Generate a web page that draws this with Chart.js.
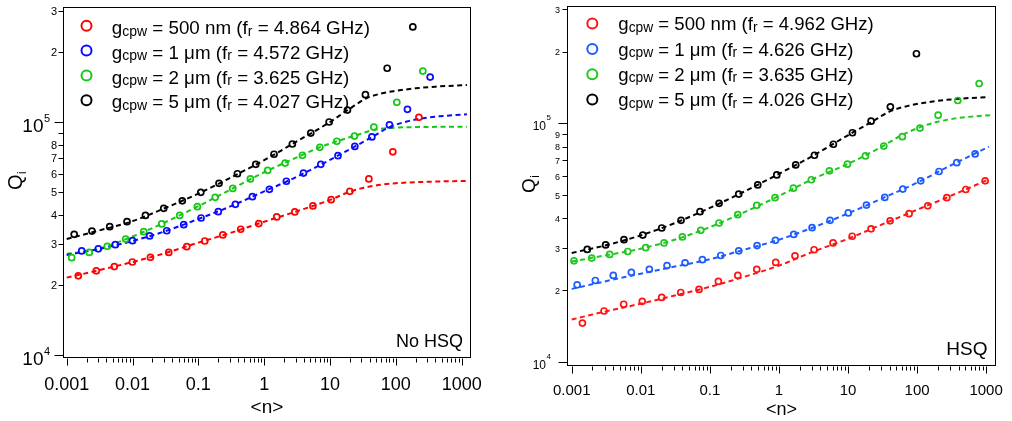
<!DOCTYPE html>
<html>
<head>
<meta charset="utf-8">
<script src="https://cdn.jsdelivr.net/npm/chart.js@4.4.0/dist/chart.umd.min.js"></script>
<style>
  html, body { margin: 0; padding: 0; background: #fff; }
  #wrap { position: relative; width: 1012px; height: 421px; overflow: hidden; }
  canvas { position: absolute; top: 0; }
  #noHsq { left: 0; }
  #hsq   { left: 505px; }
</style>
</head>
<body>
<div id="wrap">
  <canvas id="noHsq" width="505" height="421"></canvas>
  <canvas id="hsq" width="507" height="421"></canvas>
</div>
<script>
/* ── axes ─────────────────────────────────────────────── */
const xDecades    = [0.001, 0.01, 0.1, 1, 10, 100, 1000];
const xTickLabels = ['0.001', '0.01', '0.1', '1', '10', '100', '1000'];
const yTickValues = [1e4, 2e4, 3e4, 4e4, 5e4, 6e4, 7e4, 8e4, 9e4, 1e5, 2e5, 3e5];
const yTickLabelsNoHsq = ['10^4', '2', '3', '4', '5', '6', '7', '8', '', '10^5', '2', '3'];
const yTickLabelsHsq   = ['10^4', '2', '3', '4', '5', '6', '7', '8', '9', '10^5', '2', '3'];

/* ── legend text ──────────────────────────────────────── */
const gaps        = ['500 nm', '1 μm', '2 μm', '5 μm'];
const freqsNoHsq  = ['4.864', '4.572', '3.625', '4.027'];
const freqsHsq    = ['4.962', '4.626', '3.635', '4.026'];

/* ── No HSQ : measured points ─────────────────────────── */
const noHsqRedN   = [0.0015, 0.00282, 0.00529, 0.00994, 0.0187, 0.0355, 0.0667, 0.125, 0.235, 0.44, 0.828, 1.55, 2.92, 5.5, 10.4, 20, 38.9, 90, 224];
const noHsqRedQ   = [21900, 23000, 24000, 25100, 26300, 27600, 29200, 30900, 32800, 34700, 36700, 39200, 41200, 43700, 46500, 50500, 57100, 74700, 105100];
const noHsqBlueN  = [0.00169, 0.00302, 0.00548, 0.01, 0.0182, 0.0331, 0.06, 0.11, 0.201, 0.365, 0.662, 1.2, 2.17, 3.95, 7.25, 13.2, 23.8, 43.2, 80, 150, 332];
const noHsqBlueQ  = [28000, 28600, 29800, 31000, 32500, 34200, 36300, 38800, 41300, 44400, 47900, 51500, 55800, 60500, 66000, 71900, 78800, 86500, 97400, 113700, 156500];
const noHsqGreenN = [0.00119, 0.0022, 0.00414, 0.00788, 0.0148, 0.0278, 0.0521, 0.0966, 0.18, 0.333, 0.617, 1.13, 2.08, 3.81, 7.0, 12.7, 23.5, 46.3, 103.5, 257];
const noHsqGreenQ = [26200, 27600, 29300, 31500, 33900, 36600, 39800, 43400, 47600, 52000, 57100, 62200, 66800, 72200, 78100, 82900, 87300, 95400, 121900, 166100];
const noHsqBlackN = [0.0013, 0.00242, 0.0045, 0.00825, 0.0157, 0.0298, 0.057, 0.109, 0.206, 0.392, 0.745, 1.41, 2.68, 5.1, 9.69, 18.4, 34.5, 73.8, 181];
const noHsqBlackQ = [33000, 34100, 35600, 37400, 39800, 42700, 46000, 50000, 54700, 60100, 66000, 72900, 80700, 89900, 100300, 112900, 131400, 170700, 257000];

/* ── No HSQ : fit curves ──── */
const noHsqRedFitN   = [0.001, 0.003, 0.01, 0.03, 0.1, 0.3, 1, 3, 10, 20, 40, 92, 300, 1200];
const noHsqRedFitQ   = [21500, 23100, 25100, 27300, 30400, 33400, 37400, 41300, 46400, 50300, 53000, 54600, 55500, 56000];
const noHsqBlueFitN  = [0.001, 0.003, 0.01, 0.03, 0.1, 0.3, 1, 3, 10, 24, 43, 80, 147, 296, 600, 1200];
const noHsqBlueFitQ  = [26900, 28500, 30900, 33900, 38400, 43400, 50500, 58000, 69000, 78800, 86300, 95300, 100800, 104700, 106800, 108200];
const noHsqGreenFitN = [0.001, 0.003, 0.01, 0.03, 0.1, 0.3, 1, 3, 7, 12.7, 23.5, 46, 100, 300, 1200];
const noHsqGreenFitQ = [27200, 28600, 32300, 37000, 43600, 51200, 61000, 70300, 78100, 82900, 87500, 92800, 94800, 95500, 95700];
const noHsqBlackFitN = [0.001, 0.003, 0.01, 0.03, 0.1, 0.3, 1, 3, 10, 20, 35, 60, 100, 200, 400, 1200];
const noHsqBlackFitQ = [31500, 34200, 37600, 42600, 49400, 57600, 68800, 82200, 100300, 114500, 126500, 133000, 136500, 140000, 142300, 144700];

/* ── HSQ : measured points ────────────────────────────── */
const hsqRedN   = [0.00143, 0.00294, 0.00566, 0.0105, 0.0201, 0.0379, 0.0697, 0.133, 0.254, 0.478, 0.9, 1.71, 3.23, 6.08, 11.5, 21.6, 40.7, 76.7, 143, 270, 508, 968];
const hsqRedQ   = [14600, 16400, 17500, 18000, 18700, 19600, 20200, 21800, 23100, 24500, 26200, 27900, 29600, 31600, 33700, 36200, 39100, 41900, 45200, 48900, 52900, 57500];
const hsqBlueN  = [0.0012, 0.0022, 0.004, 0.0073, 0.0133, 0.024, 0.0438, 0.078, 0.144, 0.262, 0.483, 0.889, 1.64, 3.02, 5.5, 10.1, 18.5, 34.1, 62.2, 113, 208, 376, 693];
const hsqBlueQ  = [21100, 22000, 23100, 23800, 24500, 25400, 26100, 26900, 28000, 29300, 30800, 32400, 34300, 36600, 39300, 42200, 45500, 49000, 53100, 57500, 62900, 68500, 74500];
const hsqGreenN = [0.00108, 0.00195, 0.00355, 0.00647, 0.0118, 0.0217, 0.04, 0.0738, 0.136, 0.254, 0.478, 0.879, 1.62, 2.95, 5.38, 9.8, 17.9, 33, 61.3, 110, 202, 389, 792];
const hsqGreenQ = [26600, 27300, 28300, 29100, 30200, 31600, 33500, 35700, 38300, 41500, 45400, 48900, 53600, 58100, 63300, 67500, 73100, 80400, 88000, 95600, 108300, 124700, 146800];
const hsqBlackN = [0.00168, 0.0031, 0.00571, 0.0107, 0.0201, 0.0383, 0.0721, 0.136, 0.262, 0.494, 0.931, 1.75, 3.27, 6.15, 11.6, 21.6, 41.1, 98];
const hsqBlackQ = [29700, 31000, 32600, 34100, 36500, 39300, 42700, 46300, 50600, 55300, 60900, 67000, 73600, 81800, 91400, 102200, 117300, 195700];

/* ── HSQ : fit curves ─────────────────────────────────── */
const hsqRedFitN   = [0.001, 0.003, 0.01, 0.03, 0.1, 0.3, 1, 3, 10, 30, 100, 300, 1100];
const hsqRedFitQ   = [15100, 16300, 17600, 19000, 20700, 22700, 25400, 28900, 32900, 37600, 43500, 49600, 58400];
const hsqBlueFitN  = [0.001, 0.003, 0.01, 0.03, 0.1, 0.3, 1, 3, 10, 30, 100, 300, 1100];
const hsqBlueFitQ  = [20300, 21800, 23500, 25100, 27000, 29500, 32600, 36500, 42000, 48300, 56500, 66500, 79900];
const hsqGreenFitN = [0.001, 0.003, 0.01, 0.03, 0.1, 0.3, 1, 3, 10, 30, 57, 111, 193, 376, 1160];
const hsqGreenFitQ = [26400, 28000, 29900, 32500, 36800, 42200, 49700, 58300, 67700, 79500, 88500, 96500, 101300, 105200, 108300];
const hsqBlackFitN = [0.001, 0.003, 0.01, 0.03, 0.1, 0.3, 1, 3, 10, 22, 41, 80, 160, 400, 1100];
const hsqBlackFitQ = [28700, 30800, 34000, 38100, 44300, 51500, 61500, 72800, 89200, 101500, 112500, 119000, 123300, 126800, 129000];

const SANS = "'Liberation Sans', Arial, sans-serif";

// minor ticks 1..9 inside each decade
const xTickValues = [];
xDecades.forEach((d, i) => {
  if (i === xDecades.length - 1) { xTickValues.push(d); return; }
  for (let k = 1; k <= 9; k++) xTickValues.push(+(d * k).toPrecision(6));
});

const pts = (xs, ys) => xs.map((x, i) => ({ x, y: ys[i] }));

function drawRich(ctx, x, y, parts, size, subSize, subDrop) {
  parts.forEach(([t, sub]) => {
    ctx.font = `${sub ? subSize : size}px ${SANS}`;
    ctx.fillText(t, x, y + (sub ? subDrop : 0));
    x += ctx.measureText(t).width;
  });
}

function buildPanel(id, p) {
  const datasets = [];
  p.series.forEach((s, i) => {
    datasets.push({
      data: pts(s.fitN, s.fitQ),
      showLine: true,
      borderColor: p.colors[i],
      borderWidth: 2,
      borderDash: [5, 3.5],
      pointRadius: 0,
      cubicInterpolationMode: 'monotone',
      order: 2,
    });
    datasets.push({
      data: pts(s.n, s.q),
      showLine: false,
      borderColor: p.colors[i],
      backgroundColor: 'rgba(0,0,0,0)',
      pointRadius: 3,
      pointBorderWidth: 1.7,
      order: 1,
    });
  });

  const decor = {
    id: 'decor',
    afterDraw(chart) {
      const ctx = chart.ctx, a = chart.chartArea;
      const xs = chart.scales.x, ys = chart.scales.y;
      ctx.save();
      ctx.strokeStyle = '#000';
      ctx.fillStyle = '#000';
      ctx.lineWidth = 1;

      // frame
      const L = Math.round(a.left) + 0.5, T = Math.round(a.top) + 0.5;
      const R = Math.round(a.right) - 0.5, B = Math.round(a.bottom) - 0.5;
      ctx.strokeRect(L, T, R - L, B - T);

      // x tick marks
      ctx.beginPath();
      xTickValues.forEach(v => {
        const px = Math.round(xs.getPixelForValue(v)) + 0.5;
        const major = xDecades.some(d => Math.abs(d - v) / d < 1e-6);
        ctx.moveTo(px, B + 1);
        ctx.lineTo(px, B + 1 + (major ? 7 : 4));
      });
      // y tick marks
      yTickValues.forEach(v => {
        const py = Math.round(ys.getPixelForValue(v)) + 0.5;
        const major = v === 1e4 || v === 1e5;
        ctx.moveTo(L, py);
        ctx.lineTo(L - (major ? 9 : 5), py);
      });
      ctx.stroke();

      // y tick labels
      ctx.textBaseline = 'alphabetic';
      yTickValues.forEach((v, i) => {
        const lab = p.yLabels[i];
        if (!lab) return;
        const py = ys.getPixelForValue(v);
        if (lab.startsWith('10^')) {
          ctx.textAlign = 'right';
          ctx.font = `${p.yMajorFont}px ${SANS}`;
          ctx.fillText('10', a.left - p.yMajorOff, py + p.yMajorDrop);
          ctx.textAlign = 'left';
          ctx.font = `${p.ySupFont}px ${SANS}`;
          ctx.fillText(lab.slice(3), a.left - p.yMajorOff + 0.5, py + p.ySupDrop);
        } else {
          ctx.textAlign = 'right';
          ctx.font = `${p.yMinorFont}px ${SANS}`;
          ctx.fillText(lab, a.left - p.yMinorOff, py + p.yMinorFont * 0.36);
        }
      });

      // y title Q_i
      ctx.save();
      ctx.translate(p.qX, p.qY);
      ctx.rotate(-Math.PI / 2);
      ctx.textAlign = 'left';
      ctx.font = `${p.qFont}px ${SANS}`;
      ctx.fillText('Q', 0, 0);
      const wq = ctx.measureText('Q').width;
      ctx.font = `${Math.round(p.qFont * 0.62)}px ${SANS}`;
      ctx.fillText('i', wq + 0.5, p.qFont * 0.22);
      ctx.restore();

      // corner tag
      ctx.textAlign = 'right';
      ctx.font = `${p.tagFont}px ${SANS}`;
      ctx.fillText(p.tag, p.tagX - p.canvasLeft, p.tagY);

      // legend
      ctx.textAlign = 'left';
      p.freqs.forEach((f, i) => {
        const my = p.legY + i * p.legStep;
        ctx.beginPath();
        ctx.strokeStyle = p.colors[i];
        ctx.lineWidth = 2;
        ctx.arc(p.legMarkX - p.canvasLeft, my, 5, 0, Math.PI * 2);
        ctx.stroke();
        ctx.fillStyle = '#000';
        drawRich(ctx, p.legTextX - p.canvasLeft, my + p.legBase, [
          ['g', 0], ['cpw', 1], [' = ' + gaps[i] + ' (f', 0], ['r', 1], [' = ' + f + ' GHz)', 0],
        ], p.legFont, p.legSub, p.legSubDrop);
      });
      ctx.restore();
    },
  };

  return new Chart(document.getElementById(id), {
    type: 'scatter',
    data: { datasets },
    options: {
      responsive: false,
      animation: false,
      devicePixelRatio: 1,
      layout: { padding: p.padding },
      plugins: { legend: { display: false }, tooltip: { enabled: false } },
      scales: {
        x: {
          type: 'logarithmic',
          position: 'bottom',
          min: p.xMin, max: p.xMax,
          afterBuildTicks: sc => { sc.ticks = xTickValues.map(v => ({ value: v })); },
          afterFit: sc => { sc.height = p.xAxisHeight; },
          grid: { display: false },
          border: { display: false },
          ticks: {
            autoSkip: false, maxRotation: 0, padding: p.xTickPad, color: '#000',
            font: { family: SANS, size: p.xTickFont },
            callback: v => {
              const k = xDecades.findIndex(d => Math.abs(d - v) / d < 1e-6);
              return k >= 0 ? xTickLabels[k] : '';
            },
          },
          title: {
            display: true, text: '<n>', color: '#000',
            font: { family: SANS, size: p.xTitleFont },
            padding: { top: 0, bottom: p.xTitlePad },
          },
        },
        y: {
          type: 'logarithmic',
          position: 'left',
          min: p.yMin, max: p.yMax,
          afterBuildTicks: sc => { sc.ticks = yTickValues.map(v => ({ value: v })); },
          afterFit: sc => { sc.width = p.yAxisWidth; },
          grid: { display: false },
          border: { display: false },
          ticks: { display: false },
        },
      },
    },
    plugins: [decor],
  });
}

buildPanel('noHsq', {
  canvasLeft: 0,
  colors: ['#ff0000', '#0a0aff', '#14c814', '#000000'],
  series: [
    { n: noHsqRedN,   q: noHsqRedQ,   fitN: noHsqRedFitN,   fitQ: noHsqRedFitQ },
    { n: noHsqBlueN,  q: noHsqBlueQ,  fitN: noHsqBlueFitN,  fitQ: noHsqBlueFitQ },
    { n: noHsqGreenN, q: noHsqGreenQ, fitN: noHsqGreenFitN, fitQ: noHsqGreenFitQ },
    { n: noHsqBlackN, q: noHsqBlackQ, fitN: noHsqBlackFitN, fitQ: noHsqBlackFitQ },
  ],
  freqs: freqsNoHsq,
  yLabels: yTickLabelsNoHsq,
  padding: { left: 0, top: 7, right: 34, bottom: 0 },
  xAxisHeight: 63, yAxisWidth: 63,
  xMin: 0.000879, xMax: 1385, yMin: 9708, yMax: 313000,
  xTickFont: 18, xTickPad: 8, xTitleFont: 19, xTitlePad: 2,
  yMajorFont: 19, ySupFont: 11, yMajorOff: 19.5, yMajorDrop: 9.5, ySupDrop: -0.5,
  yMinorFont: 11, yMinorOff: 6,
  qX: 22, qY: 190, qFont: 20,
  tag: 'No HSQ', tagX: 463, tagY: 346.5, tagFont: 18,
  legY: 25.8, legStep: 24.8, legMarkX: 86.5, legTextX: 111.7, legBase: 8.2,
  legFont: 18.8, legSub: 14, legSubDrop: 1.5,
});

buildPanel('hsq', {
  canvasLeft: 505,
  colors: ['#ff1414', '#1f5cff', '#1ec81e', '#000000'],
  series: [
    { n: hsqRedN,   q: hsqRedQ,   fitN: hsqRedFitN,   fitQ: hsqRedFitQ },
    { n: hsqBlueN,  q: hsqBlueQ,  fitN: hsqBlueFitN,  fitQ: hsqBlueFitQ },
    { n: hsqGreenN, q: hsqGreenQ, fitN: hsqGreenFitN, fitQ: hsqGreenFitQ },
    { n: hsqBlackN, q: hsqBlackQ, fitN: hsqBlackFitN, fitQ: hsqBlackFitQ },
  ],
  freqs: freqsHsq,
  yLabels: yTickLabelsHsq,
  padding: { left: 0, top: 4, right: 16, bottom: 0 },
  xAxisHeight: 55, yAxisWidth: 62,
  xMin: 0.000855, xMax: 1390, yMin: 9652, yMax: 311000,
  xTickFont: 15, xTickPad: 7.5, xTitleFont: 18, xTitlePad: 0,
  yMajorFont: 12, ySupFont: 8, yMajorOff: 21, yMajorDrop: 6.5, ySupDrop: -3,
  yMinorFont: 9, yMinorOff: 7,
  qX: 535 - 505, qY: 193, qFont: 19,
  tag: 'HSQ', tagX: 987.5, tagY: 354.5, tagFont: 19,
  legY: 23.6, legStep: 25.3, legMarkX: 592.3, legTextX: 618.3, legBase: 6.7,
  legFont: 18.6, legSub: 13.8, legSubDrop: 1.5,
});
</script>
</body>
</html>
